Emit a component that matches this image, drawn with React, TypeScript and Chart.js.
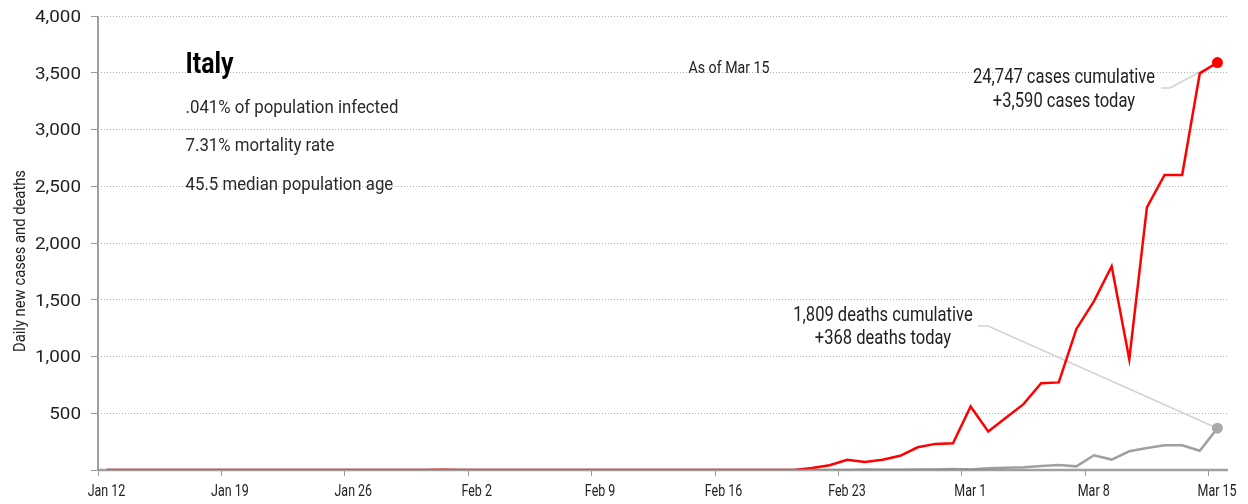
import React, { useEffect, useRef } from 'react';
import { Chart, registerables } from 'chart.js';

Chart.register(...registerables);

const FAMILY = "Roboto, 'Liberation Sans', Arial, sans-serif";

// Daily categories, Jan 12 .. Mar 15 (index = day number)
const days = [
  'Jan 12', 'Jan 13', 'Jan 14', 'Jan 15', 'Jan 16', 'Jan 17', 'Jan 18', 'Jan 19', 'Jan 20', 'Jan 21',
  'Jan 22', 'Jan 23', 'Jan 24', 'Jan 25', 'Jan 26', 'Jan 27', 'Jan 28', 'Jan 29', 'Jan 30', 'Jan 31',
  'Feb 1', 'Feb 2', 'Feb 3', 'Feb 4', 'Feb 5', 'Feb 6', 'Feb 7', 'Feb 8', 'Feb 9', 'Feb 10',
  'Feb 11', 'Feb 12', 'Feb 13', 'Feb 14', 'Feb 15', 'Feb 16', 'Feb 17', 'Feb 18', 'Feb 19', 'Feb 20',
  'Feb 21', 'Feb 22', 'Feb 23', 'Feb 24', 'Feb 25', 'Feb 26', 'Feb 27', 'Feb 28', 'Feb 29', 'Mar 1',
  'Mar 2', 'Mar 3', 'Mar 4', 'Mar 5', 'Mar 6', 'Mar 7', 'Mar 8', 'Mar 9', 'Mar 10', 'Mar 11',
  'Mar 12', 'Mar 13', 'Mar 14', 'Mar 15',
];

const newCases = [
  0, 0, 0, 0, 0, 0, 0, 0, 0, 0,
  0, 0, 0, 0, 0, 0, 0, 0, 0, 2,
  0, 0, 0, 0, 0, 1, 0, 0, 0, 0,
  0, 0, 0, 0, 0, 0, 0, 0, 0, 0,
  17, 42, 90, 70, 90, 125, 200, 230, 236, 560,
  340, 460, 580, 765, 772, 1243, 1488, 1795, 977, 2313,
  2599, 2599, 3495, 3590,
];

const newDeaths = [
  0, 0, 0, 0, 0, 0, 0, 0, 0, 0,
  0, 0, 0, 0, 0, 0, 0, 0, 0, 0,
  0, 0, 0, 0, 0, 0, 0, 0, 0, 0,
  0, 0, 0, 0, 0, 0, 0, 0, 0, 0,
  1, 1, 1, 4, 3, 2, 5, 4, 8, 5,
  15, 20, 25, 36, 45, 32, 130, 92, 165, 193,
  217, 217, 170, 368,
];

const tickDays = [0, 7, 14, 21, 28, 35, 42, 49, 56, 63];
const yTicks = [0, 500, 1000, 1500, 2000, 2500, 3000, 3500, 4000];

const title = 'Italy';
const facts = ['.041% of population infected', '7.31% mortality rate', '45.5 median population age'];
const asOf = 'As of Mar 15';
const casesNote = ['24,747 cases cumulative', '+3,590 cases today'];
const deathsNote = ['1,809 deaths cumulative', '+368 deaths today'];
const yTitle = 'Daily new cases and deaths';

function fontOf(size: number, weight = 400) {
  return `${weight} ${size}px ${FAMILY}`;
}

// horizontal squeeze so the text takes the width it has in the reference
function fitScale(ctx: CanvasRenderingContext2D, size: number, text: string, target: number, weight = 400) {
  ctx.font = fontOf(size, weight);
  const w = ctx.measureText(text).width;
  return w > 0 ? target / w : 1;
}

function drawText(
  ctx: CanvasRenderingContext2D,
  text: string,
  x: number,
  y: number,
  size: number,
  sx: number,
  align: CanvasTextAlign,
  color: string,
  weight = 400,
) {
  ctx.save();
  ctx.font = fontOf(size, weight);
  ctx.fillStyle = color;
  ctx.textAlign = align;
  ctx.textBaseline = 'alphabetic';
  ctx.translate(x, y);
  ctx.scale(sx, 1);
  ctx.fillText(text, 0, 0);
  ctx.restore();
}

const annotate = {
  id: 'annotate',
  beforeDatasetsDraw(chart: any) {
    const ctx = chart.ctx;
    const last = newCases.length - 1;
    const cp = chart.getDatasetMeta(0).data[last];
    const dp = chart.getDatasetMeta(1).data[last];
    const area = chart.chartArea;
    ctx.save();
    // solid axis lines
    ctx.setLineDash([]);
    ctx.strokeStyle = '#a0a0a0';
    ctx.lineWidth = 2;
    ctx.beginPath();
    ctx.moveTo(area.left, area.top);
    ctx.lineTo(area.left, area.bottom + 1);
    ctx.stroke();
    ctx.lineWidth = 2.5;
    ctx.beginPath();
    ctx.moveTo(area.left, area.bottom);
    ctx.lineTo(area.right, area.bottom);
    ctx.stroke();
    // leader lines
    ctx.strokeStyle = '#d2d2d2';
    ctx.lineWidth = 1.5;
    ctx.beginPath();
    ctx.moveTo(1161, 88);
    ctx.lineTo(1170, 88);
    ctx.lineTo(cp.x, cp.y);
    ctx.stroke();
    ctx.beginPath();
    ctx.moveTo(978, 326);
    ctx.lineTo(988, 326);
    ctx.lineTo(dp.x, dp.y);
    ctx.stroke();
    ctx.restore();
  },
  afterDraw(chart: any) {
    const ctx: CanvasRenderingContext2D = chart.ctx;
    const xs = chart.scales.x;
    const ys = chart.scales.y;

    // y tick labels
    const ySize = 16.5;
    const ySx = fitScale(ctx, ySize, '4,000', 46);
    yTicks.forEach((v) => {
      if (v === 0) return;
      const py = ys.getPixelForValue(v);
      drawText(ctx, v.toLocaleString('en-US'), 81, py + 0.711 * ySize / 2, ySize, ySx, 'right', '#222');
    });

    // x tick labels
    const xSize = 17;
    const xSx = fitScale(ctx, xSize, 'Mar 15', 39);
    tickDays.forEach((d) => {
      const px = xs.getPixelForValue(d);
      drawText(ctx, days[d], px + 8.5, 495.5, xSize, xSx, 'center', '#222');
    });

    // y title
    const tSize = 17;
    const tSx = fitScale(ctx, tSize, yTitle, 182);
    ctx.save();
    ctx.translate(25, 261);
    ctx.rotate(-Math.PI / 2);
    drawText(ctx, yTitle, 0, 0, tSize, tSx, 'center', '#222');
    ctx.restore();

    // title block
    const hSx = fitScale(ctx, 29, title, 48, 700);
    drawText(ctx, title, 185.5, 73, 29, hSx, 'left', '#000', 700);
    const fSx = fitScale(ctx, 19, facts[0], 213);
    drawText(ctx, facts[0], 185.5, 113, 19, fSx, 'left', '#2a2a2a');
    drawText(ctx, facts[1], 185.5, 151, 19, fSx, 'left', '#2a2a2a');
    drawText(ctx, facts[2], 185.5, 190, 19, fSx, 'left', '#2a2a2a');

    const aSx = fitScale(ctx, 17, asOf, 81);
    drawText(ctx, asOf, 729, 73, 17, aSx, 'center', '#222');

    const nSx = fitScale(ctx, 20, casesNote[0], 182);
    drawText(ctx, casesNote[0], 1064, 83, 20, nSx, 'center', '#222');
    drawText(ctx, casesNote[1], 1064, 107, 20, nSx, 'center', '#222');
    drawText(ctx, deathsNote[0], 883, 321, 20, nSx, 'center', '#222');
    drawText(ctx, deathsNote[1], 883, 344, 20, nSx, 'center', '#222');
  },
};

export default function App() {
  const ref = useRef<HTMLCanvasElement | null>(null);

  useEffect(() => {
    if (!ref.current) return;
    const last = newCases.length - 1;
    const casesPts = newCases.map((v, i) => ({ x: i + 0.5, y: v }));
    const deathsPts = newDeaths.map((v, i) => ({ x: i + 0.5, y: v }));

    const chart = new Chart(ref.current, {
      type: 'line',
      data: {
        datasets: [
          {
            label: 'Daily new cases',
            data: casesPts,
            borderColor: '#ff0000',
            backgroundColor: '#ff0000',
            borderWidth: 2.5,
            tension: 0,
            order: 1,
            pointRadius: (c: any) => (c.dataIndex === last ? 5.5 : 0),
            pointHoverRadius: 0,
            pointBorderWidth: 0,
          },
          {
            label: 'Daily new deaths',
            data: deathsPts,
            borderColor: 'rgba(136,136,136,0.8)',
            backgroundColor: '#aaaaaa',
            borderWidth: 2.5,
            tension: 0,
            order: 0,
            pointRadius: (c: any) => (c.dataIndex === last ? 5.5 : 0),
            pointHoverRadius: 0,
            pointBorderWidth: 0,
          },
        ],
      },
      options: {
        responsive: false,
        animation: false,
        events: [],
        layout: { padding: { top: 16, right: 20, left: 0, bottom: 0 } },
        plugins: {
          legend: { display: false },
          tooltip: { enabled: false },
          title: { display: false },
        },
        scales: {
          x: {
            type: 'linear',
            min: 0,
            max: 64.1,
            afterBuildTicks: (s: any) => {
              s.ticks = tickDays.map((v) => ({ value: v }));
            },
            afterFit: (s: any) => {
              s.height = 34;
            },
            ticks: { display: false },
            grid: {
              display: true,
              drawOnChartArea: false,
              drawTicks: true,
              tickLength: 6,
              tickColor: '#999',
              tickWidth: 1,
            },
            border: { display: false },
          },
          y: {
            min: 0,
            max: 4000,
            afterBuildTicks: (s: any) => {
              s.ticks = yTicks.map((v) => ({ value: v }));
            },
            afterFit: (s: any) => {
              s.width = 98;
            },
            ticks: { display: false },
            grid: {
              color: '#b0b0b0',
              lineWidth: 1,
              tickBorderDash: [0, 0],
              tickColor: '#999',
              tickLength: 7,
              tickWidth: 1,
            },
            border: { display: false, dash: [1, 2] },
          },
        },
      },
      plugins: [annotate],
    } as any);

    return () => chart.destroy();
  }, []);

  return (
    <div style={{ position: 'fixed', left: 0, top: 0, width: 1248, height: 504, background: '#fff' }}>
      <canvas ref={ref} width={1248} height={504} style={{ display: 'block', width: 1248, height: 504 }} />
    </div>
  );
}
